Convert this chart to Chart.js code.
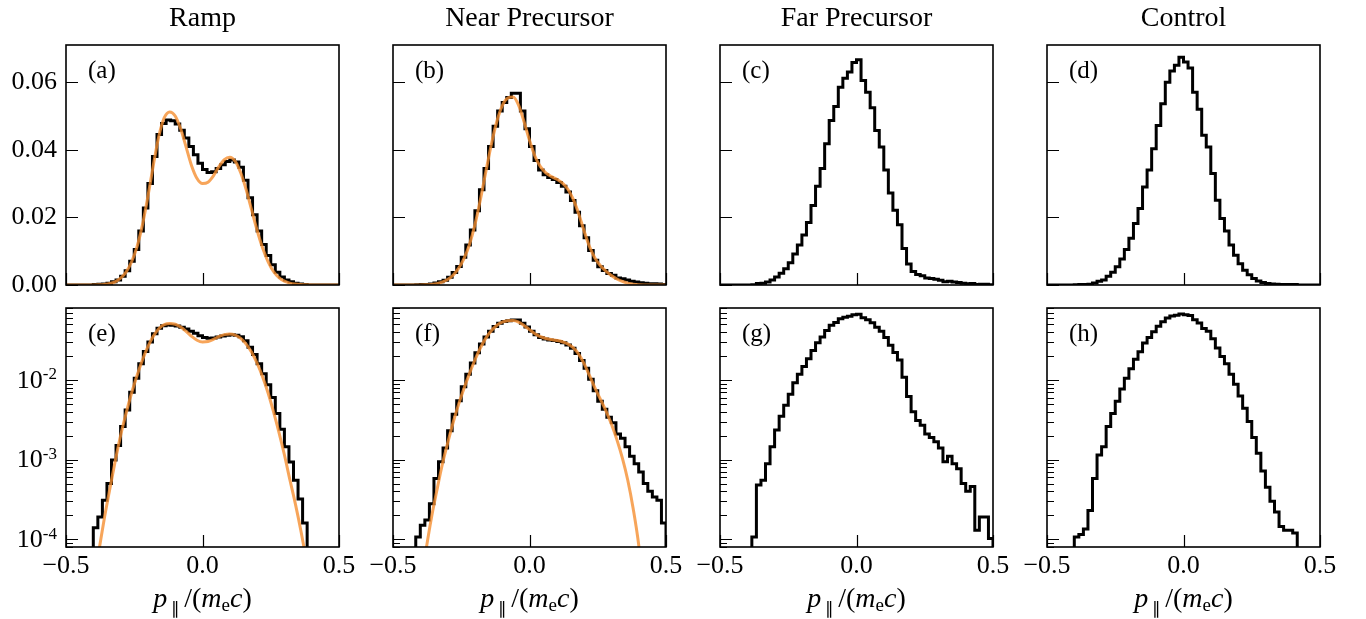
<!DOCTYPE html>
<html>
<head>
<meta charset="utf-8">
<script src="https://cdn.jsdelivr.net/npm/chart.js@4.4.1/dist/chart.umd.min.js"></script>
<style>
html, body { margin: 0; padding: 0; background: #fff; }
body { width: 1366px; height: 619px; position: relative; overflow: hidden; font-family: "Liberation Serif", serif; color: #000; }
canvas { position: absolute; }
.ttl { position: absolute; width: 300px; text-align: center; font-size: 28px; line-height: 28px; white-space: nowrap; }
.xl { position: absolute; width: 300px; text-align: center; font-size: 28px; line-height: 28px; white-space: nowrap; }
.xl .par { font-size: 17px; line-height: 0; vertical-align: -7px; margin: 0 4px 0 4px; }
.xl sub { font-size: 19px; line-height: 0; vertical-align: -4px; }
</style>
</head>
<body>
<script>
// histograms of p_par / (m_e c), 60 bins from -0.5 to 0.5
const titles = ['Ramp', 'Near Precursor', 'Far Precursor', 'Control'];
const lettersTop = ['(a)', '(b)', '(c)', '(d)'];
const lettersBottom = ['(e)', '(f)', '(g)', '(h)'];

const xTicks = [-0.5, 0, 0.5];
const linTicks = [0, 0.02, 0.04, 0.06];
const logTicks = [1e-4, 1e-3, 1e-2];
const logTickExp = ['-4', '-3', '-2'];

const histRamp = [0, 0, 0, 0, 0, 0, 1.4e-4, 1.9e-4, 3.1e-4, 5.0e-4,
  9.9e-4, 1.5e-3, 2.6e-3, 4.2e-3, 7.0e-3, 0.0105, 0.0160, 0.0228, 0.0300, 0.0380,
  0.0445, 0.0478, 0.0488, 0.0486, 0.0476, 0.0458, 0.0435, 0.0410, 0.0385, 0.0360,
  0.0342, 0.0333, 0.0335, 0.0345, 0.0356, 0.0365, 0.0370, 0.0364, 0.0348, 0.0310,
  0.0258, 0.0208, 0.0160, 0.0120, 0.0087, 0.0060, 0.0038, 0.0024, 0.00145, 0.00093,
  0.00055, 0.00032, 0.00016, 0, 0, 0, 0, 0, 0, 0];

const histNear = [0, 0, 0, 0, 0, 1.07e-4, 1.5e-4, 1.75e-4, 2.8e-4, 5.8e-4,
  9.4e-4, 1.4e-3, 2.3e-3, 3.7e-3, 5.5e-3, 8.2e-3, 0.0118, 0.0163, 0.0220, 0.0282,
  0.0345, 0.0410, 0.0470, 0.0515, 0.0540, 0.0555, 0.0567, 0.0567, 0.0515, 0.0462,
  0.0410, 0.0368, 0.0340, 0.0326, 0.0318, 0.0312, 0.0303, 0.0292, 0.0275, 0.0250,
  0.0215, 0.0175, 0.0140, 0.0102, 0.0073, 0.0054, 0.0043, 0.0034, 0.0029, 0.0021,
  0.00185, 0.00145, 0.0011, 8.9e-4, 7.0e-4, 5.0e-4, 4.0e-4, 3.4e-4, 3.1e-4, 1.6e-4];

const histFar = [0, 0, 0, 0, 0, 0, 0, 1.07e-4, 4.8e-4, 5.5e-4,
  8.9e-4, 1.45e-3, 2.35e-3, 3.5e-3, 4.8e-3, 6.6e-3, 9.2e-3, 0.0118, 0.0148, 0.0185,
  0.0235, 0.0292, 0.0345, 0.0418, 0.0487, 0.0528, 0.0585, 0.0612, 0.0630, 0.0658,
  0.0666, 0.0605, 0.0570, 0.0524, 0.0457, 0.0408, 0.0340, 0.0272, 0.0221, 0.0178,
  0.0108, 0.0062, 0.0040, 0.0031, 0.0027, 0.0021, 0.0019, 0.00167, 0.0014, 9.4e-4,
  1.1e-3, 8.9e-4, 7.7e-4, 5.0e-4, 4.0e-4, 4.6e-4, 1.3e-4, 1.9e-4, 1.9e-4, 1.02e-4];

const histControl = [0, 0, 0, 0, 0, 0, 1.07e-4, 1.15e-4, 1.35e-4, 2.3e-4,
  5.8e-4, 1.14e-3, 1.45e-3, 2.6e-3, 3.8e-3, 5.4e-3, 7.7e-3, 0.0105, 0.0138, 0.0182,
  0.0226, 0.0290, 0.0340, 0.0403, 0.0472, 0.0536, 0.0600, 0.0633, 0.0650, 0.0674,
  0.0660, 0.0642, 0.0570, 0.0520, 0.0443, 0.0408, 0.0330, 0.0251, 0.0197, 0.0160,
  0.0118, 0.0088, 0.0063, 0.0044, 0.0030, 0.0019, 1.2e-3, 7.2e-4, 4.5e-4, 3.0e-4,
  2.2e-4, 1.45e-4, 1.3e-4, 1.3e-4, 1.2e-4, 0, 0, 0, 0, 0];

// fitted model curves (orange), sampled along fitX
const fitX = [-0.5, -0.44, -0.40, -0.38, -0.36, -0.34, -0.32, -0.30, -0.28, -0.26,
  -0.24, -0.22, -0.20, -0.18, -0.16, -0.14, -0.12, -0.10, -0.08, -0.06,
  -0.04, -0.02, 0.00, 0.02, 0.04, 0.06, 0.08, 0.10, 0.12, 0.14,
  0.16, 0.18, 0.20, 0.22, 0.24, 0.26, 0.28, 0.30, 0.32, 0.34,
  0.36, 0.38, 0.40, 0.44, 0.5];

const fitRamp = [1e-8, 2e-6, 3e-5, 7e-5, 1.8e-4, 4.2e-4, 9.5e-4, 2.0e-3, 3.8e-3, 6.8e-3,
  0.0113, 0.0178, 0.0262, 0.0355, 0.0440, 0.0495, 0.0512, 0.0500, 0.0462, 0.0408,
  0.0353, 0.0315, 0.0300, 0.0304, 0.0323, 0.0350, 0.0371, 0.0378, 0.0366, 0.0332,
  0.0282, 0.0222, 0.0162, 0.0110, 0.0069, 0.0040, 0.0022, 1.15e-3, 5.6e-4, 2.8e-4,
  1.3e-4, 5.5e-5, 2.2e-5, 1.5e-6, 1e-8];

const fitNear = [1e-8, 2e-6, 2.5e-5, 7e-5, 1.8e-4, 4.0e-4, 8.5e-4, 1.6e-3, 2.9e-3, 4.9e-3,
  7.8e-3, 0.0120, 0.0178, 0.0252, 0.0335, 0.0415, 0.0483, 0.0530, 0.0553, 0.0556,
  0.0532, 0.0483, 0.0428, 0.0381, 0.0350, 0.0332, 0.0321, 0.0313, 0.0302, 0.0284,
  0.0254, 0.0211, 0.0160, 0.0113, 0.0079, 0.0057, 0.0041, 0.0028, 1.78e-3, 1.05e-3,
  5.5e-4, 2.4e-4, 8.5e-5, 4e-6, 1e-8];

const nBins = 60;
const binEdges = Array.from({length: nBins + 1}, (_, k) => -0.5 + k / nBins);

const FONT = '"Liberation Serif", "Times New Roman", serif';
const ORANGE = 'rgba(245,142,49,0.8)';
const colLeft = [66, 393, 720, 1047];
const panelW = 273;
const rowTop = [45, 308];
const rowH = [240, 239];
const linMax = 0.071, logMin = 8e-5, logMax = 0.08;

const panels = [
  {hist: histRamp, fit: fitRamp},
  {hist: histNear, fit: fitNear},
  {hist: histFar, fit: null},
  {hist: histControl, fit: null}
];

// inward ticks, full frame, panel letter, log tick labels
const framePlugin = {
  id: 'frame',
  afterDatasetsDraw(chart, args, opts) {
    const {ctx, chartArea: a, scales} = chart;
    const y = scales.y, x = scales.x;
    ctx.save();
    ctx.strokeStyle = '#000';
    ctx.lineWidth = 1.2;
    ctx.beginPath();
    if (y.type === 'logarithmic') {
      for (let e = -5; e <= -1; e++) {
        for (let m = 1; m <= 9; m++) {
          const v = m * Math.pow(10, e);
          if (v < logMin || v > logMax) continue;
          const py = Math.round(y.getPixelForValue(v)) + 0.5;
          ctx.moveTo(a.left, py);
          ctx.lineTo(a.left + (m === 1 ? 12 : 7), py);
        }
      }
    } else {
      linTicks.forEach(v => {
        const py = Math.round(y.getPixelForValue(v)) + 0.5;
        ctx.moveTo(a.left, py);
        ctx.lineTo(a.left + 12, py);
      });
    }
    xTicks.forEach(v => {
      const px = Math.round(x.getPixelForValue(v)) + 0.5;
      ctx.moveTo(px, a.bottom);
      ctx.lineTo(px, a.bottom - 12);
    });
    ctx.stroke();
    ctx.lineWidth = 1.6;
    ctx.strokeRect(a.left, a.top, a.right - a.left, a.bottom - a.top);

    ctx.fillStyle = '#000';
    ctx.font = '25px ' + FONT;
    ctx.textBaseline = 'alphabetic';
    ctx.textAlign = 'left';
    ctx.fillText(opts.letter, a.left + 22, a.top + 33);

    if (opts.logLabels) {
      const xr = a.left - 9;
      logTicks.forEach((v, i) => {
        const py = y.getPixelForValue(v);
        ctx.font = '17px ' + FONT;
        const ew = ctx.measureText(logTickExp[i]).width;
        ctx.textBaseline = 'middle';
        ctx.fillText(logTickExp[i], xr - ew, py - 5);
        ctx.font = '26px ' + FONT;
        const bw = ctx.measureText('10').width;
        ctx.fillText('10', xr - ew - bw, py + 1);
      });
    }
    ctx.restore();
  }
};

function fmtX(v) {
  if (v === 0) return '0.0';
  return (v < 0 ? '\u2212' : '') + Math.abs(v).toFixed(1);
}

function makeChart(col, row, p) {
  const isLog = row === 1;
  const padL = 66, padT = 16, padR = 26, padB = isLog ? 44 : 16;
  const w = padL + panelW + padR, h = padT + rowH[row] + padB;
  const cv = document.createElement('canvas');
  cv.width = w; cv.height = h;
  Object.assign(cv.style, {left: (colLeft[col] - padL) + 'px', top: (rowTop[row] - padT) + 'px', width: w + 'px', height: h + 'px'});
  document.body.appendChild(cv);

  const yv = v => isLog ? (v > 0 ? v : 1e-9) : v;
  const datasets = [];
  if (p.fit) {
    datasets.push({
      data: fitX.map((x, i) => ({x, y: yv(p.fit[i])})),
      borderColor: ORANGE, borderWidth: 3, pointRadius: 0,
      cubicInterpolationMode: 'monotone', order: 0, clip: 0
    });
  }
  datasets.push({
    data: binEdges.map((x, i) => ({x, y: yv(i < p.hist.length ? p.hist[i] : 0)})),
    borderColor: '#000', borderWidth: 3, pointRadius: 0,
    stepped: true, order: 1, clip: 0
  });

  const tickFont = {family: FONT, size: 26};
  const yScale = isLog ? {
    type: 'logarithmic', min: logMin, max: logMax,
    grid: {display: false, drawTicks: false}, border: {display: false},
    ticks: {display: false},
    afterFit: s => { s.width = padL; s.paddingTop = 0; s.paddingBottom = 0; }
  } : {
    type: 'linear', min: 0, max: linMax,
    grid: {display: false, drawTicks: false}, border: {display: false},
    afterBuildTicks: s => { s.ticks = linTicks.map(v => ({value: v})); },
    ticks: {display: col === 0, padding: 9, color: '#000', font: tickFont, callback: v => v.toFixed(2)},
    afterFit: s => { s.width = padL; s.paddingTop = 0; s.paddingBottom = 0; }
  };

  new Chart(cv, {
    type: 'line',
    data: {datasets},
    options: {
      responsive: false, animation: false, devicePixelRatio: 1, events: [],
      layout: {padding: {left: 0, top: padT, right: padR, bottom: 0}},
      plugins: {
        legend: {display: false}, tooltip: {enabled: false},
        frame: {letter: isLog ? lettersBottom[col] : lettersTop[col], logLabels: isLog && col === 0}
      },
      scales: {
        x: {
          type: 'linear', min: -0.5, max: 0.5,
          grid: {display: false, drawTicks: false}, border: {display: false},
          afterBuildTicks: s => { s.ticks = xTicks.map(v => ({value: v})); },
          ticks: {display: isLog, padding: 4, color: '#000', font: tickFont, maxRotation: 0, autoSkip: false, callback: v => fmtX(v)},
          afterFit: s => { s.height = padB; }
        },
        y: yScale
      }
    },
    plugins: [framePlugin]
  });
}

panels.forEach((p, col) => {
  makeChart(col, 0, p);
  makeChart(col, 1, p);
  const cx = colLeft[col] + panelW / 2;
  const t = document.createElement('div');
  t.className = 'ttl';
  t.style.left = (cx - 150) + 'px';
  t.style.top = '3px';
  t.textContent = titles[col];
  document.body.appendChild(t);
  const xl = document.createElement('div');
  xl.className = 'xl';
  xl.style.left = (cx - 150) + 'px';
  xl.style.top = '584px';
  xl.innerHTML = '<i>p</i><span class="par">\u2225</span>/(<i>m</i><sub>e</sub><i>c</i>)';
  document.body.appendChild(xl);
});
</script>
</body>
</html>
